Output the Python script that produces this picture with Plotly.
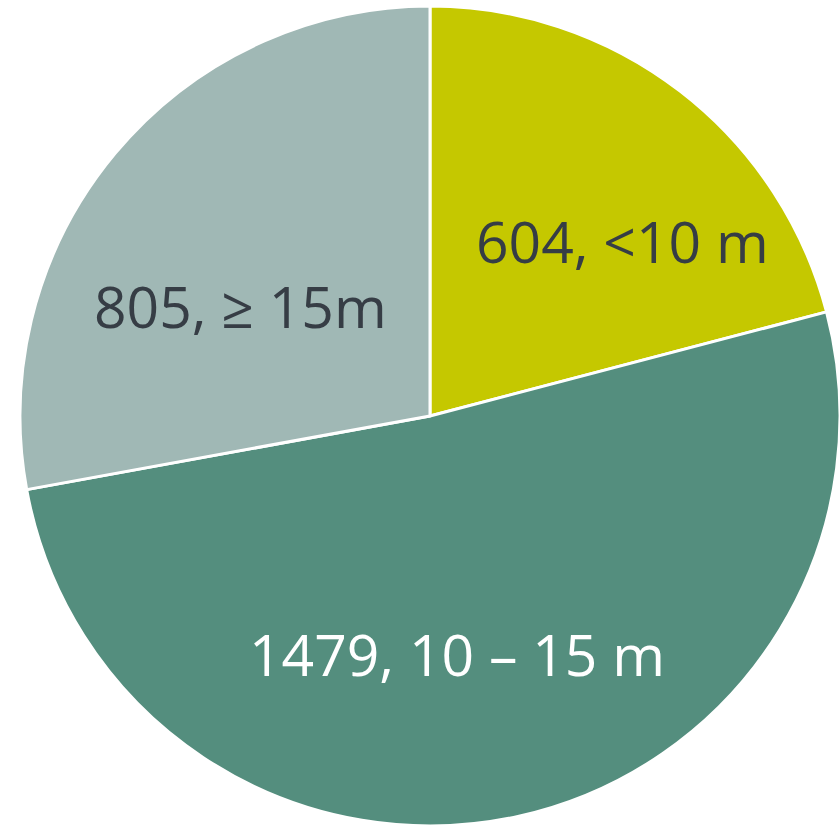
import plotly.graph_objects as go

# Count of vessels by length class
categories = ["<10 m", "10 – 15 m", "≥ 15m"]
counts = [604, 1479, 805]
label_formats = ["{v}, {c}", "{v}, {c}", "{v}, {c}"]

# Styling
colors = ["#C5C800", "#548E7E", "#A0B8B5"]
text_colors = ["#363D45", "#FFFFFF", "#363D45"]
# label anchor points in paper coordinates (x, y)
label_pos = [(622 / 840, 1 - 241 / 829), (457 / 840, 1 - 654 / 829), (241 / 840, 1 - 306 / 829)]

W, H = 840, 829

fig = go.Figure(
    go.Pie(
        labels=categories,
        values=counts,
        sort=False,
        direction="clockwise",
        rotation=0,
        marker=dict(colors=colors, line=dict(color="#FFFFFF", width=3)),
        textinfo="none",
        hoverinfo="label+value",
        domain=dict(x=[20 / W, 1.0], y=[3 / H, 823 / H]),
        showlegend=False,
    )
)

for cat, val, fmt, col, (px, py) in zip(categories, counts, label_formats, text_colors, label_pos):
    fig.add_annotation(
        x=px, y=py, xref="paper", yref="paper",
        text=fmt.format(v=val, c=cat),
        showarrow=False,
        xanchor="center", yanchor="middle",
        font=dict(family="Open Sans", size=57, color=col),
    )

fig.update_layout(
    width=W, height=H,
    margin=dict(l=0, r=0, t=0, b=0),
    paper_bgcolor="#FFFFFF",
    plot_bgcolor="#FFFFFF",
)

fig.write_html("out.html")
